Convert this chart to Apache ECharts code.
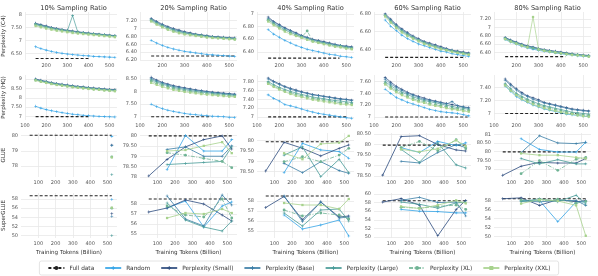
<!DOCTYPE html>
<html><head><meta charset="utf-8">
<script src="https://cdn.jsdelivr.net/npm/echarts@6/dist/echarts.min.js"></script>
<style>html,body{margin:0;padding:0;background:#fff}#c{width:598px;height:276px}</style>
</head><body><div id="c"></div>
<script>
const titles = ['10% Sampling Ratio','20% Sampling Ratio','40% Sampling Ratio','60% Sampling Ratio','80% Sampling Ratio'];
const rowNames = ['Perplexity (C4)','Perplexity (HQ)','GLUE','SuperGLUE'];
const names = ['Random','Perplexity (Small)','Perplexity (Base)','Perplexity (Large)','Perplexity (XL)','Perplexity (XXL)'];
const tokensDense = [150,175,200,225,250,275,300,325,350,375,400,425,450,475,500,525];
const tokensEval = [50,155,260,365,470,525];

// ---- Perplexity (C4): [Random, Small, Base, Large, XL, XXL]
const c4_10 = [
 [6.75,6.68,6.62,6.57,6.53,6.50,6.47,6.45,6.43,6.41,6.40,6.38,6.37,6.36,6.35,6.34],
 [7.66,7.60,7.55,7.50,7.46,7.42,7.39,7.36,7.33,7.30,7.28,7.26,7.24,7.22,7.20,7.18],
 [7.64,7.58,7.53,7.48,7.44,7.40,7.37,7.34,7.31,7.29,7.27,7.25,7.23,7.21,7.19,7.17],
 [7.62,7.56,7.51,7.46,7.42,7.39,7.36,7.95,7.30,7.28,7.26,7.24,7.22,7.20,7.18,7.16],
 [7.60,7.54,7.49,7.45,7.41,7.38,7.35,7.32,7.29,7.27,7.25,7.23,7.21,7.19,7.17,7.15],
 [7.55,7.50,7.45,7.41,7.37,7.34,7.31,7.28,7.26,7.24,7.22,7.20,7.18,7.16,7.14,7.12]];
const c4_20 = [
 [6.70,6.63,6.57,6.52,6.48,6.45,6.42,6.40,6.38,6.36,6.34,6.33,6.32,6.31,6.30,6.29],
 [7.26,7.18,7.11,7.05,7.00,6.96,6.92,6.89,6.86,6.84,6.82,6.80,6.79,6.78,6.77,6.76],
 [7.24,7.16,7.09,7.03,6.98,6.94,6.90,6.87,6.85,6.83,6.81,6.79,6.78,6.77,6.76,6.75],
 [7.22,7.14,7.07,7.01,6.96,6.92,6.89,6.86,6.84,6.82,6.80,6.78,6.77,6.76,6.75,6.74],
 [7.20,7.12,7.05,6.99,6.94,6.90,6.87,6.85,6.83,6.81,6.79,6.77,6.76,6.75,6.74,6.73],
 [7.18,7.10,7.03,6.97,6.92,6.88,6.85,6.83,6.81,6.79,6.77,6.76,6.75,6.74,6.73,6.72]];
const c4_40 = [
 [6.75,6.68,6.63,6.58,6.54,6.50,6.47,6.44,6.42,6.40,6.38,6.36,6.35,6.33,6.32,6.31],
 [6.95,6.88,6.83,6.78,6.74,6.70,6.66,6.63,6.60,6.58,6.56,6.54,6.52,6.50,6.49,6.48],
 [6.93,6.87,6.82,6.77,6.73,6.69,6.65,6.62,6.59,6.57,6.55,6.53,6.51,6.50,6.48,6.47],
 [6.91,6.85,6.80,6.75,6.71,6.67,6.64,6.61,6.58,6.56,6.54,6.52,6.50,6.49,6.47,6.46],
 [6.90,6.84,6.78,6.74,6.70,6.66,6.63,6.73,6.57,6.55,6.53,6.51,6.49,6.48,6.46,6.45],
 [6.88,6.82,6.77,6.72,6.68,6.65,6.62,6.59,6.56,6.54,6.52,6.50,6.48,6.47,6.45,6.44]];
const c4_60 = [
 [6.73,6.66,6.61,6.56,6.52,6.49,6.46,6.44,6.42,6.40,6.38,6.37,6.35,6.34,6.33,6.32],
 [6.80,6.74,6.68,6.63,6.59,6.55,6.52,6.49,6.47,6.45,6.43,6.41,6.39,6.38,6.37,6.36],
 [6.79,6.73,6.67,6.62,6.58,6.54,6.51,6.48,6.46,6.44,6.42,6.40,6.39,6.37,6.36,6.35],
 [6.78,6.72,6.66,6.61,6.57,6.53,6.50,6.48,6.45,6.43,6.41,6.40,6.38,6.37,6.36,6.35],
 [6.78,6.71,6.65,6.60,6.56,6.53,6.50,6.47,6.45,6.43,6.41,6.39,6.38,6.36,6.35,6.34],
 [6.77,6.70,6.64,6.59,6.55,6.52,6.49,6.46,6.44,6.42,6.40,6.39,6.37,6.36,6.35,6.34]];
const c4_80 = [
 [6.71,6.65,6.60,6.55,6.51,6.48,6.45,6.43,6.41,6.39,6.37,6.35,6.34,6.32,6.31,6.30],
 [6.76,6.70,6.65,6.60,6.56,6.53,6.50,6.47,6.45,6.43,6.41,6.39,6.37,6.35,6.34,6.33],
 [6.75,6.69,6.64,6.59,6.55,6.52,6.49,6.46,6.44,6.42,6.40,6.38,6.36,6.35,6.33,6.32],
 [6.74,6.68,6.63,6.58,6.54,6.51,6.48,6.45,6.43,6.41,6.39,6.37,6.36,6.34,6.33,6.32],
 [6.73,6.67,6.62,6.57,6.53,6.50,6.47,6.45,6.42,6.40,6.38,6.37,6.35,6.34,6.32,6.31],
 [6.72,6.66,6.61,6.56,6.52,7.25,6.47,6.44,6.42,6.40,6.38,6.36,6.34,6.33,6.32,6.30]];

// ---- Perplexity (HQ)
const hq_10 = [
 [7.55,7.45,7.37,7.31,7.26,7.21,7.17,7.13,7.10,7.07,7.05,7.03,7.01,7.00,6.99,6.98],
 [9.00,8.93,8.87,8.81,8.76,8.72,8.68,8.64,8.61,8.58,8.55,8.52,8.50,8.47,8.45,8.43],
 [8.98,8.91,8.85,8.79,8.74,8.70,8.66,8.62,8.59,8.56,8.53,8.50,8.48,8.45,8.43,8.41],
 [8.96,8.89,8.83,8.77,8.72,8.68,8.64,8.60,8.57,8.54,8.51,8.48,8.46,8.43,8.41,8.39],
 [8.94,8.87,8.81,8.75,8.70,8.66,8.62,8.58,8.55,8.52,8.49,8.46,8.44,8.41,8.39,8.37],
 [8.92,8.85,8.79,8.73,8.68,8.64,8.60,8.56,8.53,8.50,8.47,8.44,8.42,8.39,8.37,8.35]];
const hq_20 = [
 [7.50,7.40,7.32,7.26,7.21,7.17,7.13,7.10,7.08,7.06,7.04,7.02,7.01,7.00,6.98,6.97],
 [8.57,8.46,8.37,8.30,8.24,8.19,8.15,8.11,8.07,8.04,8.01,7.98,7.96,7.94,7.92,7.90],
 [8.52,8.42,8.34,8.27,8.21,8.16,8.12,8.08,8.05,8.02,7.99,7.96,7.94,7.92,7.90,7.88],
 [8.47,8.38,8.30,8.23,8.17,8.12,8.08,8.04,8.01,7.98,7.95,7.93,7.91,7.89,7.87,7.85],
 [8.42,8.33,8.25,8.18,8.12,8.08,8.04,8.00,7.97,7.94,7.91,7.89,7.87,7.85,7.83,7.82],
 [8.35,8.27,8.19,8.13,8.07,8.03,7.99,7.96,7.93,7.90,7.88,7.86,7.84,7.82,7.80,7.79]];
const hq_40 = [
 [7.50,7.42,7.36,7.28,7.25,7.22,7.18,7.14,7.11,7.08,7.06,7.04,7.02,7.00,6.98,6.97],
 [7.88,7.81,7.75,7.69,7.65,7.61,7.57,7.54,7.51,7.49,7.47,7.45,7.43,7.41,7.40,7.38],
 [7.86,7.79,7.73,7.68,7.63,7.59,7.56,7.53,7.50,7.48,7.46,7.44,7.42,7.40,7.39,7.37],
 [7.80,7.73,7.67,7.62,7.58,7.54,7.51,7.48,7.45,7.43,7.41,7.39,7.37,7.36,7.34,7.33],
 [7.77,7.70,7.64,7.59,7.55,7.51,7.48,7.45,7.42,7.40,7.38,7.36,7.34,7.32,7.31,7.29],
 [7.75,7.68,7.62,7.57,7.52,7.48,7.45,7.42,7.39,7.37,7.35,7.33,7.31,7.29,7.28,7.27]];
const hq_60 = [
 [7.47,7.40,7.33,7.29,7.25,7.22,7.19,7.16,7.13,7.11,7.09,7.08,7.07,7.06,7.04,7.02],
 [7.67,7.59,7.52,7.47,7.42,7.38,7.35,7.32,7.29,7.27,7.25,7.23,7.21,7.19,7.17,7.16],
 [7.64,7.56,7.50,7.45,7.40,7.37,7.33,7.30,7.28,7.26,7.24,7.22,7.26,7.19,7.17,7.15],
 [7.60,7.53,7.47,7.42,7.38,7.34,7.31,7.28,7.26,7.24,7.22,7.20,7.18,7.16,7.15,7.13],
 [7.57,7.50,7.44,7.39,7.35,7.31,7.28,7.26,7.23,7.21,7.19,7.17,7.15,7.14,7.12,7.11],
 [7.55,7.48,7.42,7.37,7.33,7.29,7.26,7.24,7.21,7.19,7.17,7.15,7.13,7.12,7.10,7.09]];
const hq_80 = [
 [7.42,7.34,7.26,7.21,7.17,7.13,7.10,7.07,7.05,7.03,7.01,6.99,6.98,6.97,6.96,6.95],
 [7.53,7.45,7.38,7.32,7.27,7.24,7.21,7.17,7.15,7.13,7.11,7.09,7.07,7.06,7.05,7.04],
 [7.51,7.43,7.36,7.30,7.26,7.22,7.19,7.16,7.14,7.12,7.10,7.08,7.06,7.05,7.04,7.03],
 [7.46,7.38,7.31,7.26,7.22,7.18,7.15,7.12,7.10,7.08,7.06,7.04,7.02,7.01,7.00,6.99],
 [7.44,7.36,7.29,7.24,7.20,7.16,7.13,7.10,7.08,7.06,7.04,7.02,7.00,6.99,6.98,6.97],
 [7.43,7.35,7.28,7.22,7.18,7.14,7.11,7.08,7.06,7.04,7.02,7.00,6.99,6.97,6.96,6.95]];

// ---- GLUE (x = tokensEval)
const glue_10 = [
 [null,null,null,null,null,79.93],[null,null,null,null,null,79.37],[null,null,null,null,null,79.35],
 [null,null,null,null,null,77.45],[null,null,null,null,null,78.60],[null,null,null,null,null,78.57]];
const glue_20 = [
 [null,78.36,80.00,79.25,79.25,79.80],[78.05,78.85,79.45,79.80,79.98,79.35],[null,79.33,79.45,79.00,79.00,79.50],
 [null,78.60,78.65,78.70,78.75,79.45],[null,79.17,79.05,78.90,78.75,78.45],[null,79.25,79.30,79.50,79.68,79.15]];
const glue_40 = [
 [null,78.45,79.87,79.55,79.47,79.15],[78.53,79.92,79.63,79.26,79.63,79.79],[null,78.90,78.45,78.98,78.55,78.42],
 [null,79.30,79.70,78.26,79.10,78.45],[null,78.98,79.22,78.98,79.30,79.63],[null,79.39,79.10,79.84,79.90,80.23]];
const glue_60 = [
 [null,79.85,79.62,80.15,79.95,80.08],[78.54,80.38,80.42,80.00,79.74,79.69],[null,79.20,79.12,79.62,80.00,79.85],
 [null,79.77,79.15,80.08,79.03,78.88],[null,79.85,80.15,79.70,80.23,79.80],[null,79.77,79.65,79.80,80.20,79.92]];
const glue_80 = [
 [null,80.74,80.13,79.98,79.98,80.54],[78.65,79.17,79.39,79.35,79.35,79.61],[null,79.94,80.91,80.50,80.46,80.54],
 [null,79.61,79.30,79.54,79.30,79.30],[null,78.74,79.48,78.93,79.57,79.67],[null,79.90,79.80,79.80,79.67,79.61]];

// ---- SuperGLUE
const sglue_10 = [
 [null,null,null,null,null,57.9],[null,null,null,null,null,54.8],[null,null,null,null,null,54.2],
 [null,null,null,null,null,50.0],[null,null,null,null,null,56.0],[null,null,null,null,null,56.1]];
const sglue_20 = [
 [null,57.6,58.3,55.7,57.8,58.2],[57.2,57.6,58.4,58.0,56.9,56.3],[null,58.8,56.5,55.8,58.9,57.9],
 [null,58.1,56.4,55.7,55.3,56.3],[null,57.8,56.9,56.7,58.5,56.6],[null,56.6,57.1,57.0,57.5,57.1]];
const sglue_40 = [
 [null,56.6,55.2,55.6,56.1,54.5],[57.35,58.45,56.13,57.9,56.4,56.5],[null,58.5,55.95,57.9,56.3,56.4],
 [null,56.8,55.5,57.1,57.2,56.0],[null,57.1,56.5,56.8,56.6,56.2],[null,57.8,57.6,57.6,57.2,58.2]];
const sglue_60 = [
 [null,56.4,56.0,55.9,55.6,55.6],[58.1,58.9,57.4,50.3,56.4,58.5],[null,58.5,59.2,58.0,58.1,54.9],
 [null,58.1,57.6,56.7,57.9,58.1],[null,56.9,56.7,57.1,57.4,56.4],[null,57.1,56.6,57.4,58.5,57.8]];
const sglue_80 = [
 [null,58.1,58.1,53.3,57.8,57.8],[58.5,58.7,57.0,58.3,57.8,58.1],[null,58.0,57.8,58.1,58.1,57.0],
 [null,57.8,58.5,57.8,59.3,57.3],[null,58.2,58.0,58.4,57.5,57.9],[null,57.4,58.3,58.0,57.0,50.1]];

// ---- Full data reference values and their token spans
const fullC4 = [6.30,6.30,6.30,6.31,6.30];
const fullC4Span = [[150,400],[150,525],[150,470],[150,510],[150,420]];
const fullHQ = [7.00,7.00,7.00,7.00,7.00];
const fullHQSpan = [[150,400],[150,420],[150,500],[150,520],[150,470]];
const fullGLUE = [80.00,79.98,79.95,79.97,79.99];
const fullSGLUE = [58.7,58.5,58.5,58.4,58.5];
const fullEvalSpan = [50,525];

// ---- Axis ranges and tick labels
const c4Range = [[6.24,8.09],[6.20,7.42],[6.27,7.03],[6.28,6.82],[6.22,7.37]];
const c4Ticks = [[6.5,7,7.5,8],[6.2,6.4,6.6,6.8,7,7.2],[6.4,6.6,6.8,7],[6.4,6.6,6.8],[6.2,6.4,6.6,6.8,7,7.2]];
const hqRange = [[6.82,9.21],[6.87,8.66],[6.93,7.95],[6.95,7.71],[6.90,7.59]];
const hqTicks = [[7,7.5,8,8.5,9],[7,7.5,8,8.5],[7,7.2,7.4,7.6,7.8],[7,7.2,7.4,7.6],[7,7.2,7.4]];
const glueRange = [[77.3,80.15],[78.0,80.12],[78.24,80.37],[78.45,80.55],[78.55,81.07]];
const glueTicks = [[78,79,80],[78,78.5,79,79.5,80],[78.5,79,79.5,80],[78.5,79,79.5,80,80.5],[78.5,79,79.5,80,80.5,81]];
const sglueRange = [[49.5,59.3],[54.6,59.1],[54.3,58.8],[49.8,60.2],[49.6,59.8]];
const sglueTicks = [[50,52,54,56,58],[55,56,57,58],[55,56,57,58],[50,52,54,56,58,60],[50,52,54,56,58,60]];
const denseXTicks = [100,200,300,400,500];
const evalXTicks = [100,200,300,400,500];

const colors = ['#33a3e6','#2b4a7d','#3a7da6','#469a97','#6fb394','#a7d28d'];
const PLUS = 'path://M2,0H3V2H5V3H3V5H2V3H0V2H2Z';
const symbols = [PLUS, PLUS, PLUS, PLUS, 'circle', 'rect'];
const dashes = ['solid','solid','solid','solid',[4,1.5,1,1.5],'solid'];

const colLeft = [20,140,257,374,494];
const colW = 97;
const rowTop = [12,75,133,193];
const rowH = [48,45,44,45];

const rows = [
  {data:[c4_10,c4_20,c4_40,c4_60,c4_80], xs:tokensDense, range:c4Range, ticks:c4Ticks, full:fullC4, span:fullC4Span, xr:[100,535], xl:[200,300,400,500]},
  {data:[hq_10,hq_20,hq_40,hq_60,hq_80], xs:tokensDense, range:hqRange, ticks:hqTicks, full:fullHQ, span:fullHQSpan, xr:[100,535], xl:denseXTicks},
  {data:[glue_10,glue_20,glue_40,glue_60,glue_80], xs:tokensEval, range:glueRange, ticks:glueTicks, full:fullGLUE, span:null, xr:[0,555], xl:evalXTicks},
  {data:[sglue_10,sglue_20,sglue_40,sglue_60,sglue_80], xs:tokensEval, range:sglueRange, ticks:sglueTicks, full:fullSGLUE, span:null, xr:[0,555], xl:evalXTicks}
];

const fmt = v => Math.abs(v - Math.round(v)) < 1e-9 ? String(Math.round(v)) : v.toFixed(2);
const grid=[], xAxis=[], yAxis=[], series=[];
const gridColor = '#e8e8e8';
let gi = 0;
rows.forEach((row, r) => {
  for (let c = 0; c < 5; c++) {
    grid.push({left: colLeft[c], top: rowTop[r], width: colW, height: rowH[r]});
    xAxis.push({gridIndex: gi, type:'value', min: row.xr[0], max: row.xr[1],
      axisLine:{show:false}, axisTick:{show:false, customValues: denseXTicks},
      splitLine:{show:true, lineStyle:{color:gridColor, width:0.8}},
      axisLabel:{customValues: row.xl, fontSize:5, color:'#555', margin:3, formatter: fmt},
      name: r===3 ? 'Training Tokens (Billion)' : '', nameLocation:'middle', nameGap:12,
      nameTextStyle:{fontSize:5.6, color:'#333'}});
    yAxis.push({gridIndex: gi, type:'value', min: row.range[c][0], max: row.range[c][1],
      axisLine:{show:false}, axisTick:{show:false, customValues: row.ticks[c]},
      splitLine:{show:true, lineStyle:{color:gridColor, width:0.8}},
      axisLabel:{customValues: row.ticks[c], fontSize:5, color:'#555', margin:3, formatter: fmt},
      name: c===0 ? rowNames[r] : '', nameLocation:'middle', nameGap:14, nameRotate:90,
      nameTextStyle:{fontSize:5.6, color:'#333'}});
    const sp = row.span ? row.span[c] : fullEvalSpan;
    series.push({name:'Full data', type:'line', xAxisIndex:gi, yAxisIndex:gi, symbol:'none', silent:true,
      data:[[sp[0], row.full[c]],[sp[1], row.full[c]]], z:1,
      lineStyle:{color:'#222', width:1.1, type:[3,2]}, itemStyle:{color:'#222'}});
    row.data[c].forEach((vals, s) => {
      const pts = [];
      vals.forEach((v, i) => { if (v !== null) pts.push([row.xs[i], v]); });
      series.push({name: names[s], type:'line', xAxisIndex:gi, yAxisIndex:gi, data: pts,
        symbol: symbols[s], symbolSize: s===5 ? 2.3 : 2.8, showSymbol:true, silent:true, z:2+s,
        lineStyle:{color: colors[s], width:0.8, type: dashes[s], opacity: r<2 ? 0.85 : 1},
        itemStyle:{color: colors[s]}});
    });
    gi++;
  }
});
const chart = echarts.init(document.getElementById('c'), null, {renderer:'canvas'});
chart.setOption({
  animation:false,
  textStyle:{fontFamily:'DejaVu Sans'},
  grid, xAxis, yAxis, series,
  title: titles.map((t,c)=>({text:t, left: colLeft[c]+colW/2, top:0, textAlign:'center',
    textStyle:{fontSize:6.6, fontWeight:'normal', color:'#333'}})),
  legend:{data:['Full data', ...names], bottom:1, left:'center', itemWidth:16, itemHeight:5, itemGap:10,
    textStyle:{fontSize:5.8, color:'#333'}, borderColor:'#ddd', borderWidth:0.8, borderRadius:2, padding:[4,8]}
});
</script></body></html>
